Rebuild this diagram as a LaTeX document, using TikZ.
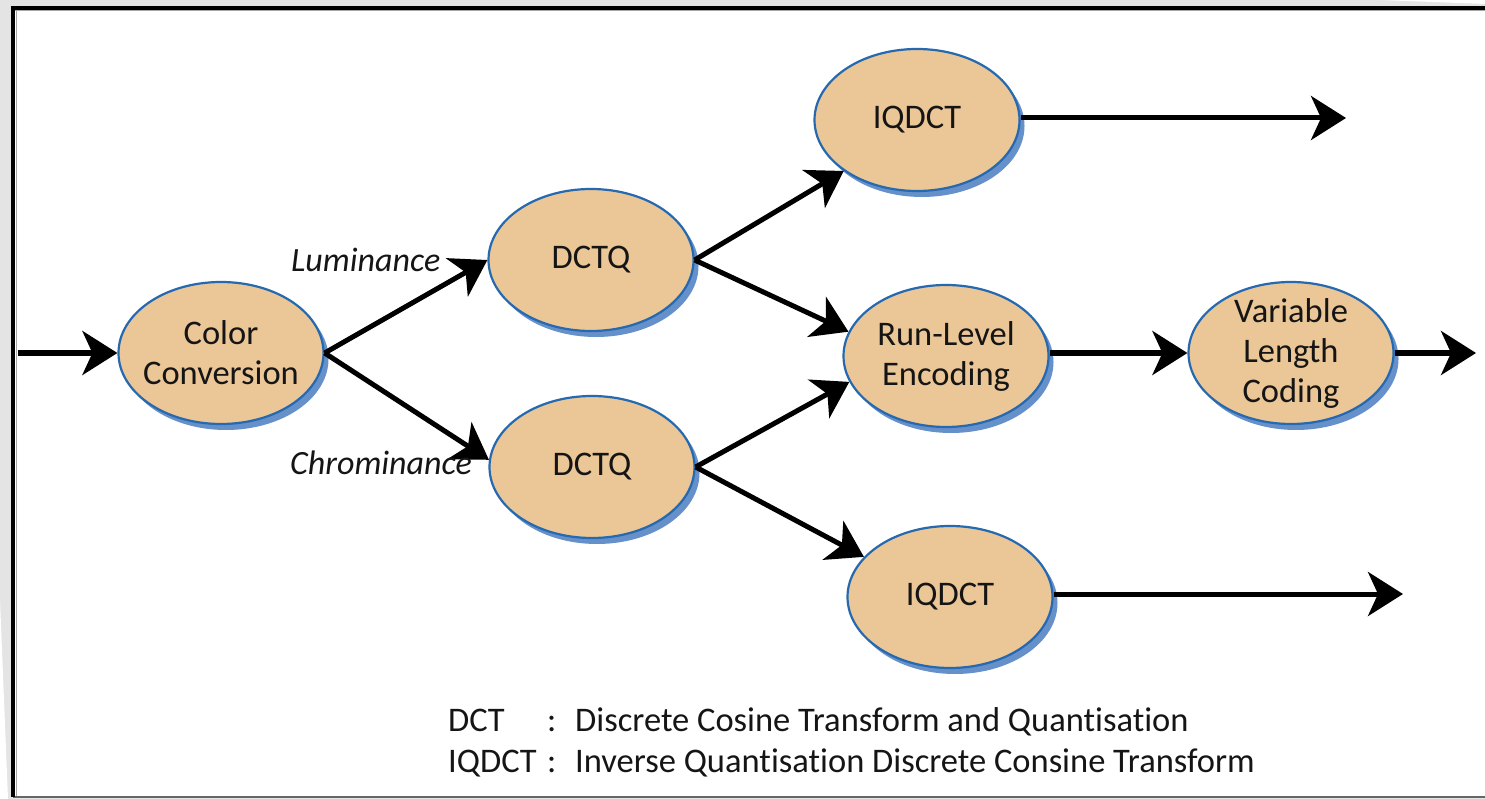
\documentclass[tikz,border=0pt]{standalone}
\usepackage{fontspec}
\setmainfont[Ligatures=NoCommon]{Carlito}
\usetikzlibrary{shapes.geometric,arrows.meta,shadows}

\definecolor{pagegrey}{HTML}{E4E4E4}
\definecolor{nodefill}{HTML}{EBC697}
\definecolor{nodeline}{HTML}{2569B0}
\definecolor{nodeshade}{HTML}{6690CA}
\definecolor{inkdark}{HTML}{151515}

\tikzset{
  stage/.style={ellipse, draw=nodeline, line width=2.2pt, fill=nodefill,
    minimum width=205pt, minimum height=142pt,
    inner xsep=-25pt, inner ysep=-25pt,
    align=center, text=inkdark,
    font=\fontsize{34.5}{40}\selectfont,
    drop shadow={shadow xshift=5pt, shadow yshift=-6pt, fill=nodeshade, opacity=1}},
  flow/.style={line width=5pt, draw=black,
    -{Stealth[length=35pt,width=44pt,inset=10pt]}},
  edgelabel/.style={text=inkdark, inner sep=0pt,
    font=\fontsize{34}{40}\selectfont\itshape},
  keytext/.style={text=inkdark, inner sep=0pt, anchor=base west,
    font=\fontsize{34.5}{40}\selectfont}
}

\begin{document}
\begin{tikzpicture}[x=1pt,y=-1pt]
  \useasboundingbox (0,0) rectangle (1485,799);

  % page background and frame
  \fill[pagegrey] (0,0) rectangle (1485,799);
  \fill[white] (0,600) -- (8,799) -- (0,799) -- cycle;
  \fill[white] (1380,0) -- (1485,0) -- (1485,4) -- cycle;
  \fill[white] (13,8) rectangle (1485,797);
  \draw[gray!70, line width=1pt] (15,11) -- (1485,11);
  \draw[gray!70, line width=1pt] (16,11) -- (16,797);
  \draw[gray!80!black, line width=2pt] (13,797) -- (1485,797);
  \draw[black, line width=4pt] (13,797) -- (13,8) -- (1485,8);

  % processing stages
  \node[stage] (cc) at (221,353) {Color\\Conversion};
  \node[stage] (d1) at (591,260) {DCTQ};
  \node[stage] (d2) at (592,467) {DCTQ};
  \node[stage] (i1) at (917,120) {IQDCT};
  \node[stage] (rl) at (946,356) {Run-Level\\Encoding};
  \node[stage] (i2) at (950,597) {IQDCT};
  \node[stage] (vl) at (1291,353) {Variable\\Length\\Coding};

  % free ends of the data flow
  \coordinate (in) at (18,353);
  \coordinate (o1) at (1346,118);
  \coordinate (o2) at (1476,353);
  \coordinate (o3) at (1403,594);

  % connectors
  \draw[flow] (in) -- (cc.west);
  \draw[flow] (cc.east) -- (d1.west);
  \draw[flow] (cc.east) -- (d2.176);
  \draw[flow] (d1.east) -- (i1.south west);
  \draw[flow] (d1.east) -- (rl.166);
  \draw[flow] (d2.east) -- (rl.195);
  \draw[flow] (d2.east) -- (i2.155);
  \draw[flow] (i1.east |- o1) -- (o1);
  \draw[flow] (rl.east |- vl.west) -- (vl.west);
  \draw[flow] (vl.east) -- (vl.east -| o2);
  \draw[flow] (i2.east |- o3) -- (o3);

  % channel labels
  \node[edgelabel, anchor=base west] (lum) at (291,272) {Luminance};
  \node[edgelabel, anchor=base west] (chr) at (290,474) {Chrominance};

  % abbreviations
  \node[keytext] (k1) at (448,731) {DCT};
  \node[keytext] (c1) at (547,731) {:};
  \node[keytext] (t1) at (575,731) {Discrete Cosine Transform and Quantisation};
  \node[keytext] (k2) at (448,772) {IQDCT};
  \node[keytext] (c2) at (547,772) {:};
  \node[keytext] (t2) at (575,772) {Inverse Quantisation Discrete Consine Transform};
\end{tikzpicture}
\end{document}
